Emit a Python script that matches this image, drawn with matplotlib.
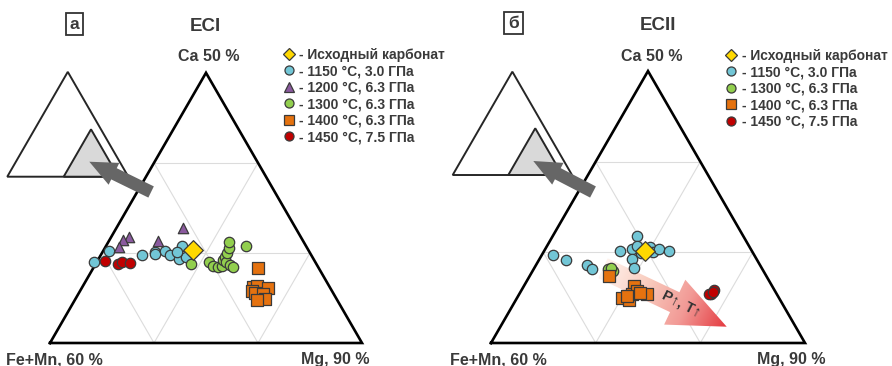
import numpy as np
import matplotlib
matplotlib.use('Agg')
import matplotlib.pyplot as plt
from matplotlib.patches import Polygon, FancyArrow
from matplotlib.lines import Line2D
from matplotlib.colors import LinearSegmentedColormap

plt.rcParams['font.family'] = ['Liberation Sans', 'DejaVu Sans']

# compositions, at.% : Ca (0-50) and Mg (40-90), Fe+Mn is the rest (10-60)
# ECI
src_I_ca = [17.3]
src_I_mg = [54.3]
c1150_I_ca = [14.9, 17.0, 16.2, 16.9, 16.4, 17.0, 16.2, 15.6, 18.0, 15.9, 16.8]
c1150_I_mg = [39.6, 40.9, 46.7, 48.4, 48.6, 50.0, 51.2, 52.9, 52.1, 53.8, 51.9]
c1200_I_ca = [19.6, 19.1, 17.8, 18.8, 21.3]
c1200_I_mg = [42.9, 42.1, 42.2, 47.9, 50.6]
c1300_I_ca = [14.6, 14.9, 14.3, 14.1, 14.2, 15.4, 16.0, 14.9, 16.6, 17.6, 18.6, 14.4, 14.1, 17.9]
c1300_I_mg = [55.3, 58.1, 59.0, 59.8, 60.4, 60.0, 60.1, 60.7, 60.1, 59.9, 59.4, 61.6, 62.3, 62.4]
c1400_I_ca = [13.8, 10.3, 10.6, 10.2, 9.6, 9.2, 9.0, 8.2, 8.0]
c1400_I_mg = [66.4, 67.4, 67.9, 69.9, 67.5, 68.3, 69.7, 70.3, 69.2]
c1450_I_ca = [15.1, 14.7, 15.0, 14.8]
c1450_I_mg = [41.2, 43.5, 44.1, 45.4]

# ECII
src_II_ca = [16.9]
src_II_mg = [56.1]
c1150_II_ca = [16.2, 15.2, 14.3, 13.6, 17.0, 17.2, 19.7, 17.8, 15.4, 13.8, 16.6, 17.6, 16.8, 17.2, 17.0]
c1150_II_mg = [41.8, 44.4, 48.2, 49.3, 52.1, 53.8, 53.4, 54.4, 54.7, 55.9, 55.6, 56.5, 57.4, 58.1, 59.9]
c1300_II_ca = [13.6, 13.2, 13.7]
c1300_II_mg = [51.9, 52.8, 52.3]
c1400_II_ca = [12.3, 10.4, 8.3, 7.9, 9.0, 9.5, 9.0, 9.2, 8.6]
c1400_II_mg = [52.6, 57.6, 56.7, 58.0, 57.9, 58.5, 60.3, 59.1, 57.3]
c1450_II_ca = [9.7, 9.0, 9.1, 9.4]
c1450_II_mg = [70.7, 70.6, 70.2, 70.6]

labels = {
    'src': '- Исходный карбонат',
    '1150': '- 1150 °C, 3.0 ГПа',
    '1200': '- 1200 °C, 6.3 ГПа',
    '1300': '- 1300 °C, 6.3 ГПа',
    '1400': '- 1400 °C, 6.3 ГПа',
    '1450': '- 1450 °C, 7.5 ГПа',
}
styles = {
    'src': dict(marker='D', color='#ffd800', s=100, ms=6.5),
    '1150': dict(marker='o', color='#72c6d6', s=56, ms=6.5),
    '1200': dict(marker='^', color='#8a5a9e', s=56, ms=6.5),
    '1300': dict(marker='o', color='#92cf4e', s=56, ms=6.5),
    '1400': dict(marker='s', color='#e5720f', s=68, ms=6.5),
    '1450': dict(marker='o', color='#c00000', s=56, ms=6.5),
}
EDGE = '#3a3a3a'
TXT = '#3a3a3a'
H = np.sqrt(3) / 2


def tern(ca, mg):
    ca = np.asarray(ca, dtype=float) / 50.0
    mg = (np.asarray(mg, dtype=float) - 40.0) / 50.0
    return mg + ca / 2, ca * H


def gray_arrow(ax, tail, tip):
    tail = np.array(tail); tip = np.array(tip)
    d = tip - tail
    ax.add_patch(FancyArrow(tail[0], tail[1], d[0], d[1], width=0.04, head_width=0.078,
                            head_length=0.088, length_includes_head=True,
                            color='#666666', lw=0, zorder=4))


def grad_arrow(ax, tail, tip, w, hw, hl):
    T = np.array(tail); P = np.array(tip)
    L = np.hypot(*(P - T))
    d = (P - T) / L
    n = np.array([-d[1], d[0]])
    B = P - d * hl
    verts = [T + n * w / 2, B + n * w / 2, B + n * hw / 2, P,
             B - n * hw / 2, B - n * w / 2, T - n * w / 2]
    poly = Polygon(verts, closed=True, fc='none', ec='none')
    ax.add_patch(poly)
    vx = [v[0] for v in verts]; vy = [v[1] for v in verts]
    x0, x1, y0, y1 = min(vx), max(vx), min(vy), max(vy)
    X, Y = np.meshgrid(np.linspace(x0, x1, 300), np.linspace(y0, y1, 300))
    t = np.clip(((X - T[0]) * d[0] + (Y - T[1]) * d[1]) / L, 0, 1)
    cmap = LinearSegmentedColormap.from_list('pt', ['#fff3ee', '#f9cdbf', '#f29a96', '#e4393f'])
    im = ax.imshow(t, extent=(x0, x1, y0, y1), origin='lower', cmap=cmap,
                   aspect='auto', zorder=2, interpolation='bilinear')
    im.set_clip_path(poly)


def panel(ax, series, letter, title, inset, arrow, leg_xy, txt):
    # grid
    for k in (1, 2):
        f = k / 3
        ax.plot([f / 2, 1 - f / 2], [f * H, f * H], color='#dcdcdc', lw=0.8, zorder=1)
        ax.plot([f, f / 2 + 0.5], [0, (1 - f) * H], color='#dcdcdc', lw=0.8, zorder=1)
        ax.plot([f, f / 2], [0, f * H], color='#dcdcdc', lw=0.8, zorder=1)
    ax.plot([0, 1, 0.5, 0], [0, 0, H, 0], color='black', lw=1.9, zorder=3,
            solid_joinstyle='miter')

    # small overview triangle
    xl, w, yb = inset
    ax.add_patch(Polygon([[xl, yb], [xl + w, yb], [xl + w / 2, yb + w * H]], closed=True,
                         fc='white', ec='#262626', lw=1.4, zorder=3))
    ax.add_patch(Polygon([[xl + 0.466 * w, yb], [xl + 0.918 * w, yb],
                          [xl + 0.692 * w, yb + 0.452 * w * H]], closed=True,
                         fc='#d9d9d9', ec='#262626', lw=1.4, zorder=3))
    gray_arrow(ax, arrow[0], arrow[1])

    handles = []
    for key, (ca, mg) in series:
        st = styles[key]
        x, y = tern(ca, mg)
        ax.scatter(x, y, marker=st['marker'], s=st['s'], c=st['color'],
                   edgecolors=EDGE, linewidths=0.9, zorder=5)
    for key in [k for k in styles if k in dict(series)]:
        st = styles[key]
        handles.append(Line2D([], [], ls='', marker=st['marker'], ms=st['ms'],
                              mfc=st['color'], mec=EDGE, mew=0.9, label=labels[key]))
    leg = ax.legend(handles=handles, loc='upper left', bbox_to_anchor=leg_xy,
                    bbox_transform=ax.transData, frameon=False, borderpad=0,
                    borderaxespad=0, handlelength=0.8, handletextpad=0.35,
                    labelspacing=0.18, prop=dict(size=10, weight='bold'))
    for t in leg.get_texts():
        t.set_color(TXT)

    ax.text(txt['title'][0], txt['title'][1], title, ha='center', va='center',
            fontsize=13.5, fontweight='bold', color=TXT)
    ax.text(txt['letter'][0], txt['letter'][1], letter, ha='center', va='center',
            fontsize=12.5, fontweight='bold', color=TXT,
            bbox=dict(boxstyle='square,pad=0.22', fc='white', ec='#333333', lw=1.3))
    ax.text(txt['ca'][0], txt['ca'][1], 'Ca 50 %', ha='center', va='center',
            fontsize=11.5, fontweight='bold', color=TXT)
    ax.text(txt['fe'][0], txt['fe'][1], 'Fe+Mn, 60 %', ha='center', va='center',
            fontsize=11.5, fontweight='bold', color=TXT)
    ax.text(txt['mg'][0], txt['mg'][1], 'Mg, 90 %', ha='center', va='center',
            fontsize=11.5, fontweight='bold', color=TXT)


fig = plt.figure(figsize=(8.92, 3.66), dpi=100)


def make_axes(left_px, corner_px, scale):
    ax = fig.add_axes([left_px / 892, 0, 446 / 892, 1])
    ax.axis('off')
    lims = ((left_px - corner_px) / scale, (left_px + 446 - corner_px) / scale,
            (343 - 366) / scale, 343 / scale)
    return ax, lims


ax1, lim1 = make_axes(0, 50, 312)
series_I = [('1150', (c1150_I_ca, c1150_I_mg)), ('1200', (c1200_I_ca, c1200_I_mg)),
            ('1300', (c1300_I_ca, c1300_I_mg)), ('1400', (c1400_I_ca, c1400_I_mg)),
            ('1450', (c1450_I_ca, c1450_I_mg)), ('src', (src_I_ca, src_I_mg))]
panel(ax1, series_I, 'а', 'ECI', (-0.137, 0.388, 0.533),
      ((0.324, 0.484), (0.126, 0.581)), (0.748, 0.946),
      dict(title=(0.498, 1.016), letter=(0.0785, 1.022), ca=(0.51, 0.917),
           fe=(0.014, -0.054), mg=(0.913, -0.054)))
ax1.set_xlim(lim1[0], lim1[1]); ax1.set_ylim(lim1[2], lim1[3])

ax2, lim2 = make_axes(446, 491, 314)
series_II = [('1150', (c1150_II_ca, c1150_II_mg)), ('1300', (c1300_II_ca, c1300_II_mg)),
             ('1400', (c1400_II_ca, c1400_II_mg)), ('1450', (c1450_II_ca, c1450_II_mg)),
             ('src', (src_II_ca, src_II_mg))]
grad_arrow(ax2, (0.3567, 0.2379), (0.7506, 0.0519), 0.070, 0.158, 0.183)
ax2.text(0.6067, 0.1242, 'P↑, T↑', ha='center', va='center',
         rotation=-27, fontsize=10.5, fontweight='bold', color='#333333', zorder=6,
         family=['Liberation Sans', 'DejaVu Sans'])
panel(ax2, series_II, 'б', 'ECII', (-0.122, 0.38, 0.535),
      ((0.3248, 0.4809), (0.1347, 0.5796)), (0.748, 0.937),
      dict(title=(0.531, 1.01), letter=(0.0717, 1.019), ca=(0.513, 0.911),
           fe=(0.0223, -0.054), mg=(0.955, -0.054)))
ax2.set_xlim(lim2[0], lim2[1]); ax2.set_ylim(lim2[2], lim2[3])

fig.savefig('out.png', dpi=100)
